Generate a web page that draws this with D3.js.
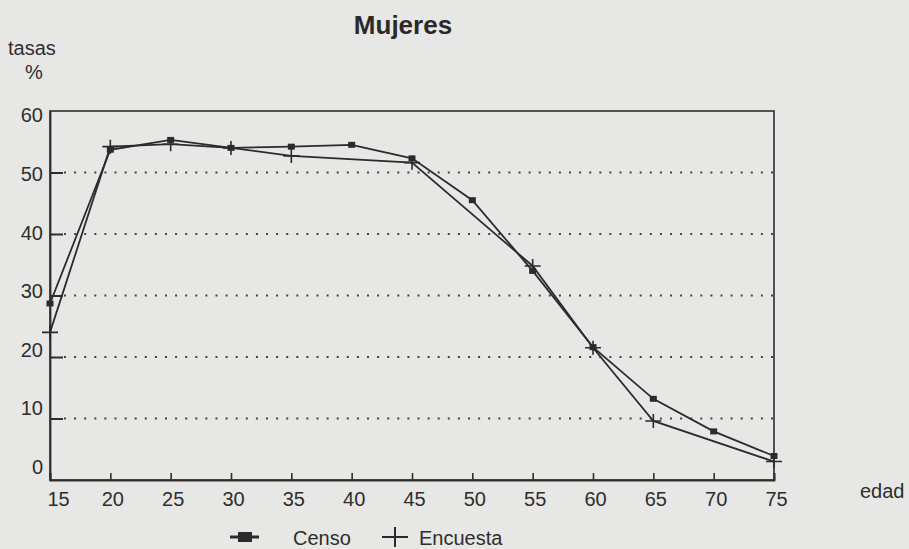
<!DOCTYPE html>
<meta charset="utf-8">
<title>Mujeres</title>

<style>
body { margin: 0; background: #e7e7e5; }
svg { display: block; font-family: "Liberation Sans", Arial, sans-serif; }
.axis text { font-size: 20px; fill: #2e2e2e; }
.axis path, .axis line { stroke: #2e2e2e; }
.grid line { stroke: #444; stroke-width: 2; stroke-dasharray: 2,8.1; }
.serie { fill: none; stroke: #2b2b2b; stroke-width: 1.8; }
.ley { font-size: 20px; fill: #2e2e2e; }
</style>

<body>
<svg width="909" height="549"></svg>

<script src="https://d3js.org/d3.v7.min.js"></script>

<script>

// datos (la encuesta no tiene punto en 40, 50 y 70)
var edades   = [15, 20, 25, 30, 35, 40, 45, 50, 55, 60, 65, 70, 75];
var censo    = [28.7, 53.7, 55.3, 54.0, 54.2, 54.5, 52.3, 45.5, 34.0, 21.6, 13.2, 7.9, 3.9];
var encuesta = [24.0, 54.2, 54.6, 54.0, 52.7, null, 51.6, null, 34.8, 21.5, 9.6, null, 3.0];
var yTicks   = [0, 10, 20, 30, 40, 50, 60];
var gridTicks = [10, 20, 30, 40, 50];

var svg = d3.select("svg"),
    margin = {top: 111, right: 135, bottom: 69, left: 50},
    width = +svg.attr("width") - margin.left - margin.right,
    height = +svg.attr("height") - margin.top - margin.bottom;

var x = d3.scaleLinear().domain([15, 75]).range([0, width]),
    y = d3.scaleLinear().domain([0, 60]).range([height, 0]);

// las etiquetas del eje y del original no caen exactamente sobre las marcas
var yLab = d3.scaleLinear().domain([0, 60]).range([height - 13, 4.5]);

var g = svg.append("g")
    .attr("transform", "translate(" + margin.left + "," + margin.top + ")");

// titulo
svg.append("text")
    .attr("x", 403).attr("y", 34)
    .attr("text-anchor", "middle")
    .style("font-size", "26px").style("font-weight", "bold").style("fill", "#2a2a2a")
    .text("Mujeres");

svg.append("text")
    .attr("x", 8).attr("y", 55)
    .style("font-size", "20px").style("fill", "#2e2e2e")
    .text("tasas");
svg.append("text")
    .attr("x", 34).attr("y", 79)
    .attr("text-anchor", "middle")
    .style("font-size", "20px").style("fill", "#2e2e2e")
    .text("%");

svg.append("text")
    .attr("x", 860).attr("y", 498)
    .style("font-size", "20px").style("fill", "#2e2e2e")
    .text("edad");

// lineas punteadas
g.append("g")
    .attr("class", "grid")
  .selectAll("line")
  .data(gridTicks)
  .enter().append("line")
    .attr("x1", 14)
    .attr("x2", width)
    .attr("y1", function(d) { return y(d); })
    .attr("y2", function(d) { return y(d); });

// marco
g.append("rect")
    .attr("width", width).attr("height", height)
    .attr("fill", "none").attr("stroke", "#2e2e2e").attr("stroke-width", 1.6);

// eje x
var gx = g.append("g")
    .attr("class", "axis axis--x")
    .attr("transform", "translate(0," + height + ")")
    .call(d3.axisBottom(x).tickValues(edades).tickSize(-7).tickPadding(12));
gx.select(".domain").attr("stroke-width", 1.8);
gx.selectAll("line").attr("stroke-width", 1.6);
gx.selectAll("text")
    .attr("dx", function(d) { return d === 15 ? 8 : 2; });

// eje y
var gy = g.append("g")
    .attr("class", "axis axis--y")
    .call(d3.axisLeft(y).tickValues(yTicks).tickSize(0).tickPadding(7));
gy.select(".domain").attr("stroke-width", 1.8);
gy.selectAll("text")
    .attr("y", function(d) { return yLab(d) - y(d); });
gy.selectAll(".tick").filter(function(d) { return d > 0 && d < 60; })
  .append("line")
    .attr("x2", 13)
    .attr("stroke-width", 2);

// series
function puntos(vals) {
  return edades.map(function(e, i) { return {edad: e, v: vals[i]}; })
    .filter(function(p) { return p.v != null; });
}

var linea = d3.line()
    .x(function(p) { return x(p.edad); })
    .y(function(p) { return y(p.v); });

g.append("path").attr("class", "serie").attr("d", linea(puntos(censo)));
g.append("path").attr("class", "serie").attr("d", linea(puntos(encuesta)));

g.selectAll(".mc")
  .data(puntos(censo))
  .enter().append("rect")
    .attr("class", "mc")
    .attr("x", function(p) { return x(p.edad) - 3.5; })
    .attr("y", function(p) { return y(p.v) - 3; })
    .attr("width", 7).attr("height", 6)
    .attr("fill", "#2b2b2b");

g.selectAll(".me")
  .data(puntos(encuesta))
  .enter().append("path")
    .attr("class", "me")
    .attr("transform", function(p) { return "translate(" + x(p.edad) + "," + y(p.v) + ")"; })
    .attr("d", "M-8,0H8M0,-7V7")
    .attr("stroke", "#2b2b2b").attr("stroke-width", 1.6).attr("fill", "none");

// leyenda
var ley = svg.append("g").attr("transform", "translate(0,537)");
ley.append("line").attr("x1", 230).attr("x2", 259).attr("stroke", "#2b2b2b").attr("stroke-width", 3);
ley.append("rect").attr("x", 238).attr("y", -5).attr("width", 14).attr("height", 10).attr("fill", "#2b2b2b");
ley.append("text").attr("class", "ley").attr("x", 293).attr("y", 8).text("Censo");
ley.append("path").attr("d", "M382,0H408M395,-10V10").attr("stroke", "#2b2b2b").attr("stroke-width", 2);
ley.append("text").attr("class", "ley").attr("x", 419).attr("y", 8).text("Encuesta");

</script>
</body>
